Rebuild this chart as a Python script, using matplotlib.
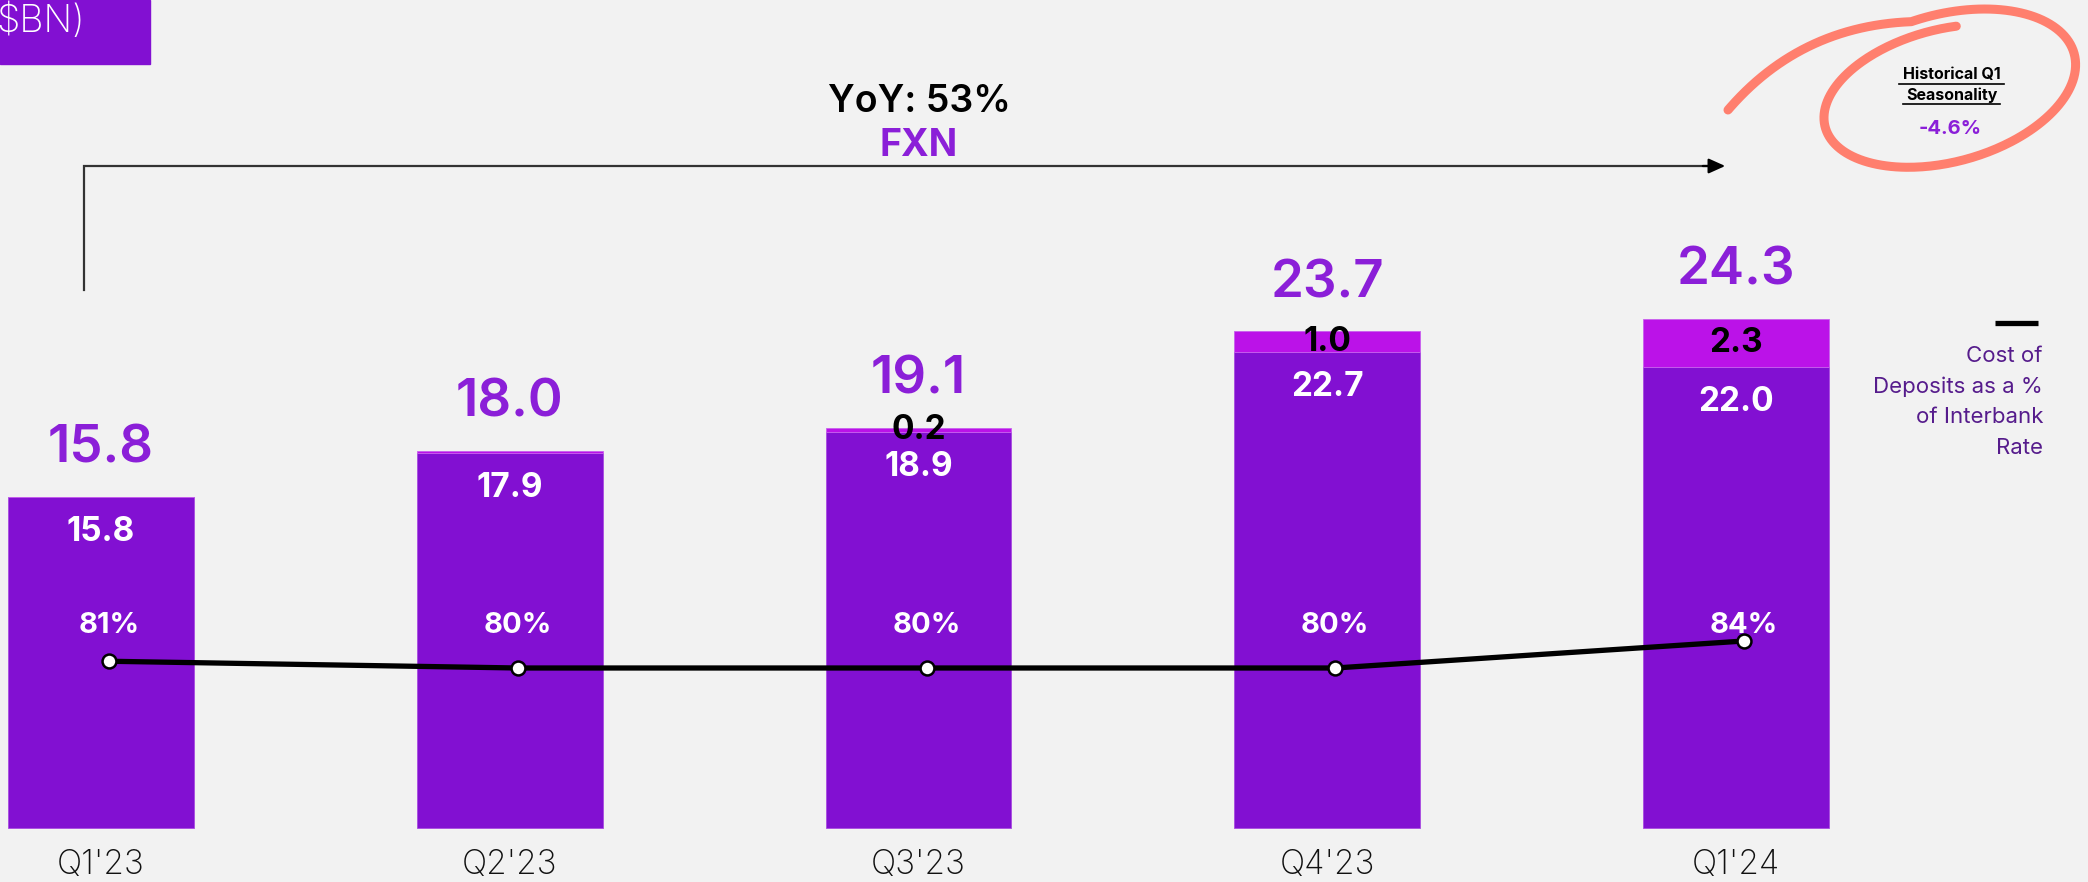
"""Deposits by quarter (US$BN) with cost of deposits as % of interbank rate."""

import numpy as np
import matplotlib.pyplot as plt


quarters = ["Q1'23", "Q2'23", "Q3'23", "Q4'23", "Q1'24"]
base_deposits = [15.8, 17.9, 18.9, 22.7, 22.0]
fx_deposits = [0.0, 0.1, 0.2, 1.0, 2.3]
totals = [15.8, 18.0, 19.1, 23.7, 24.3]
fx_labels = [None, None, "0.2", "1.0", "2.3"]
cost_pct = [81, 80, 80, 80, 84]

BG = "#F2F2F2"
PURPLE = "#8210D2"
MAGENTA = "#BB12E8"
LABEL_PURPLE = "#8B1FD8"
LEGEND_PURPLE = "#561C8C"
SALMON = "#FF7F6E"

W, H = 2088, 882
plt.rcParams["font.family"] = ["Inter", "DejaVu Sans"]

fig = plt.figure(figsize=(W / 100, H / 100), dpi=100, facecolor=BG)

# main bar axes covers the full canvas; limits set so bars land where the slide has them
ax = fig.add_axes([0, 0, 1, 1])
ax.set_facecolor(BG)
ax.set_xlim(-101 / 408.75, (W - 101) / 408.75)
ax.set_ylim(-(H - 828) / 20.95, 828 / 20.95)
ax.axis("off")

x = np.arange(len(quarters))
ax.bar(x, base_deposits, width=0.455, color=PURPLE, edgecolor="#A94BE0", linewidth=0.6)
ax.bar(x, fx_deposits, width=0.455, bottom=base_deposits, color=MAGENTA,
       edgecolor="#C860EE", linewidth=0.6)

for i in range(len(quarters)):
    ax.annotate(f"{totals[i]:.1f}", (x[i], totals[i]), xytext=(0, 34.5),
                textcoords="offset points", ha="center", va="center",
                fontsize=38, fontweight="semibold", color=LABEL_PURPLE)
    ax.annotate(f"{base_deposits[i]:.1f}", (x[i], base_deposits[i]), xytext=(0, -25),
                textcoords="offset points", ha="center", va="center",
                fontsize=24, fontweight="bold", color="white")
    if fx_labels[i]:
        ax.text(x[i], base_deposits[i] + fx_deposits[i] / 2, fx_labels[i],
                ha="center", va="center", fontsize=24, fontweight="bold", color="black")
    ax.text(x[i], 0.0193, quarters[i], transform=ax.get_xaxis_transform(),
            ha="center", va="center", fontsize=24, fontweight="light", color="#111111")

# cost of deposits line on its own scale
lax = fig.add_axes([0, 0, 1, 1])
lax.patch.set_alpha(0)
lax.set_xlim(-109 / 408.75, (W - 109) / 408.75)
lax.set_ylim(80 - (H - 668) / 6.75, 80 + 668 / 6.75)
lax.axis("off")
lax.plot(x, cost_pct, color="black", linewidth=3.8, zorder=3)
lax.plot(x, cost_pct, linestyle="none", marker="o", markersize=10,
         markerfacecolor="white", markeredgecolor="black", markeredgewidth=1.8, zorder=4)
for i, v in enumerate(cost_pct):
    lax.text(x[i], 0.291, f"{v}%", transform=lax.get_xaxis_transform(),
             ha="center", va="center", fontsize=21, fontweight="bold", color="white")

# overlay in pixel coordinates for the slide decorations
ov = fig.add_axes([0, 0, 1, 1])
ov.patch.set_alpha(0)
ov.set_xlim(0, W)
ov.set_ylim(H, 0)
ov.axis("off")

ov.add_patch(plt.Rectangle((0, 0), 150, 64, color=PURPLE))
ov.text(-4, 22, "$BN)", ha="left", va="center", fontsize=27, fontweight="light",
        color="white")

# YoY bracket
ov.plot([84, 84, 1712], [290, 166, 166], color="#333333", linewidth=1.6,
        solid_joinstyle="miter")
ov.annotate("", xy=(1728, 166), xytext=(1700, 166),
            arrowprops=dict(arrowstyle="-|>,head_length=1.0,head_width=0.45",
                            color="black", linewidth=1.6))
ov.text(919, 102, "YoY: 53%", ha="center", va="center", fontsize=27,
        fontweight="semibold", color="black")
ov.text(919, 146, "FXN", ha="center", va="center", fontsize=27,
        fontweight="bold", color=LABEL_PURPLE)

# hand-drawn circle around seasonality note
t = np.radians(np.linspace(85, 465, 300))
grow = (t - t[0]) / (t[-1] - t[0])
a = 118 + 16 * grow
b = 64 + 16 * grow
cx, cy = 1946, 92
lx = cx + a * np.cos(t)
ly = cy - b * np.sin(t) - 0.2 * (a * np.cos(t))
s = np.linspace(0, 1, 60)
p0 = np.array([lx[-1], ly[-1]])
p1 = np.array([1800, 26])
p2 = np.array([1728, 110])
tail = ((1 - s) ** 2)[:, None] * p0 + (2 * (1 - s) * s)[:, None] * p1 + (s ** 2)[:, None] * p2
ov.plot(np.concatenate([lx, tail[:, 0]]), np.concatenate([ly, tail[:, 1]]),
        color=SALMON, linewidth=6.5, solid_capstyle="round", solid_joinstyle="round")

ov.text(1952, 74, "Historical Q1", ha="center", va="center", fontsize=11.5,
        fontweight="bold", color="black")
ov.text(1952, 95, "Seasonality", ha="center", va="center", fontsize=11.5,
        fontweight="bold", color="black")
ov.plot([1899, 2004], [84, 84], color="black", linewidth=1.2)
ov.plot([1903, 2000], [104, 104], color="black", linewidth=1.2)
ov.text(1950, 129, "-4.6%", ha="center", va="center", fontsize=14.5,
        fontweight="bold", color=LABEL_PURPLE)

# legend for the line
ov.plot([1995, 2038], [323, 323], color="black", linewidth=3.8, solid_capstyle="butt")
legend_lines = ["Cost of", "Deposits as a %", "of Interbank", "Rate"]
for k, line in enumerate(legend_lines):
    ov.text(2043, 356 + 30.5 * k, line, ha="right", va="center", fontsize=16,
            color=LEGEND_PURPLE)

fig.savefig("out.png", dpi=100, facecolor=BG)
